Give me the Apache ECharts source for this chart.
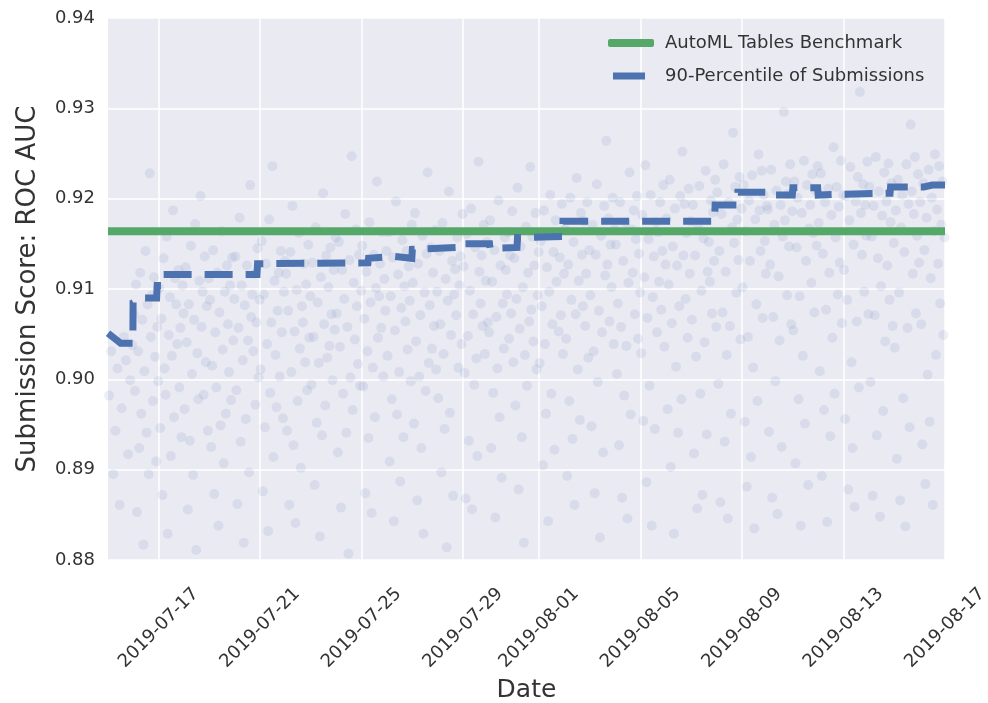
<!DOCTYPE html>
<html>
<head>
<meta charset="utf-8">
<script src="https://cdn.jsdelivr.net/npm/echarts@6/dist/echarts.min.js"></script>
<style>
html,body{margin:0;padding:0;background:#fff;}
#chart{width:988px;height:703px;}
</style>
</head>
<body>
<div id="chart"></div>
<script>
// ---------- data ----------
const tickDates = ['2019-07-17','2019-07-21','2019-07-25','2019-07-29','2019-08-01','2019-08-05','2019-08-09','2019-08-13','2019-08-17'];
const xMinDate = '2019-07-15';
const xMaxDate = '2019-08-17';
const yTicks = [0.88, 0.89, 0.90, 0.91, 0.92, 0.93, 0.94];

const benchmarkName = 'AutoML Tables Benchmark';
const benchmarkValue = 0.9164;

const percentileName = '90-Percentile of Submissions';
const percentileDates = [
 '2019-07-15 00:00','2019-07-15 12:00','2019-07-15 23:30','2019-07-15 23:45','2019-07-16 08:00','2019-07-16 22:00',
 '2019-07-16 22:30','2019-07-17 03:00','2019-07-17 03:30','2019-07-20 21:00','2019-07-20 21:30','2019-07-25 06:00',
 '2019-07-25 06:30','2019-07-26 07:00','2019-07-26 23:30','2019-07-27 00:00','2019-07-28 21:00','2019-07-28 21:30',
 '2019-07-30 01:00','2019-07-30 01:30','2019-07-31 03:00','2019-07-31 03:30','2019-08-01 22:00','2019-08-01 22:30',
 '2019-08-07 22:00','2019-08-07 22:30','2019-08-08 19:30','2019-08-08 20:00','2019-08-10 01:00','2019-08-10 01:30',
 '2019-08-10 23:30','2019-08-11 00:00','2019-08-11 23:30','2019-08-12 00:00','2019-08-13 00:00','2019-08-13 01:00',
 '2019-08-14 20:00','2019-08-14 20:30','2019-08-16 04:00','2019-08-16 05:00','2019-08-16 12:00','2019-08-17 00:00'
];
const percentileValues = [
 0.9051,0.9040,0.9040,0.9085,0.9090,0.9090,
 0.9104,0.9104,0.9116,0.9116,0.9128,0.9129,
 0.9134,0.9136,0.9134,0.9144,0.9146,0.9150,
 0.9150,0.9145,0.9146,0.9157,0.9158,0.9175,
 0.9175,0.9193,0.9193,0.9207,0.9207,0.9204,
 0.9204,0.9212,0.9212,0.9204,0.9205,0.9206,
 0.9206,0.9213,0.9213,0.9212,0.9215,0.9215
];

const submissionDays = [
 '2019-07-15','2019-07-16','2019-07-17','2019-07-18','2019-07-19','2019-07-20','2019-07-21','2019-07-22',
 '2019-07-23','2019-07-24','2019-07-25','2019-07-26','2019-07-27','2019-07-28','2019-07-29','2019-07-30',
 '2019-07-31','2019-08-01','2019-08-02','2019-08-03','2019-08-04','2019-08-05','2019-08-06','2019-08-07',
 '2019-08-08','2019-08-09','2019-08-10','2019-08-11','2019-08-12','2019-08-13','2019-08-14','2019-08-15',
 '2019-08-16'
];
const submissionScores = [
 [0.8982,0.9031,0.8895,0.8943,0.9012,0.8861,0.8968,0.9047,0.9021,0.8917,0.8999,0.9038],
 [0.9072,0.8987,0.9105,0.8853,0.9031,0.8924,0.9118,0.8962,0.9066,0.8817,0.9009,0.9142,0.8941,0.9083,0.8895,0.9228,0.9047,0.9093,0.8976,0.9113,0.9025,0.8909,0.9058,0.8998],
 [0.9101,0.8946,0.9067,0.8872,0.9134,0.9012,0.8983,0.9158,0.8829,0.9049,0.9091,0.8915,0.9026,0.9187,0.8958,0.9112,0.9083,0.9039,0.9121,0.8991,0.9057,0.8936,0.9104,0.9073],
 [0.8967,0.9124,0.9041,0.8856,0.9083,0.8932,0.9148,0.9006,0.8894,0.9066,0.9172,0.8811,0.9029,0.8978,0.9109,0.9203,0.9058,0.9097,0.8983,0.9136,0.9019,0.9081,0.8943,0.9112],
 [0.9088,0.8925,0.9015,0.9143,0.8873,0.9052,0.8991,0.9118,0.8838,0.9074,0.8949,0.9164,0.9033,0.8907,0.9097,0.8962,0.9126,0.9061,0.9008,0.9104,0.8977,0.9135,0.9043,0.9089],
 [0.9136,0.8988,0.8862,0.9057,0.9179,0.8931,0.9104,0.9021,0.8819,0.9082,0.8956,0.9126,0.9043,0.8897,0.9215,0.9069,0.9094,0.9031,0.9117,0.8972,0.9063,0.9145,0.9002,0.9088],
 [0.9011,0.9153,0.8876,0.9094,0.8947,0.9128,0.9039,0.8832,0.9177,0.8985,0.9063,0.9236,0.8914,0.9109,0.9027,0.8969,0.9076,0.9118,0.9003,0.9142,0.9052,0.8957,0.9097,0.9131],
 [0.9117,0.8943,0.9076,0.8861,0.9141,0.9008,0.9192,0.8927,0.9053,0.8841,0.9099,0.8976,0.9162,0.9034,0.8902,0.9081,0.9063,0.9128,0.9019,0.9105,0.8988,0.9149,0.9046,0.9092],
 [0.8994,0.9129,0.9047,0.8883,0.9168,0.8952,0.9085,0.9018,0.8826,0.9113,0.8938,0.9206,0.9061,0.8971,0.9137,0.9024,0.9102,0.9037,0.9146,0.9072,0.8999,0.9121,0.9055,0.9157],
 [0.9073,0.8919,0.9152,0.9036,0.8858,0.9121,0.8984,0.9089,0.9183,0.8941,0.9058,0.8807,0.9132,0.9002,0.9247,0.8966,0.9107,0.9044,0.9166,0.9081,0.9017,0.9138,0.8993,0.9098],
 [0.9148,0.8992,0.9067,0.8874,0.9119,0.9031,0.8935,0.9174,0.9085,0.8852,0.9013,0.9138,0.8958,0.9101,0.9219,0.9046,0.9092,0.9128,0.9057,0.9163,0.9003,0.9111,0.9076,0.9142],
 [0.9026,0.9163,0.8909,0.9092,0.8978,0.9135,0.8843,0.9054,0.9197,0.8961,0.9116,0.9008,0.8887,0.9079,0.9154,0.8936,0.9103,0.9064,0.9142,0.9033,0.9125,0.9087,0.8998,0.9171],
 [0.9107,0.8951,0.9184,0.9042,0.8866,0.9128,0.9003,0.9071,0.8924,0.9159,0.8829,0.9096,0.8987,0.9139,0.9229,0.9018,0.9082,0.9146,0.9034,0.9118,0.9059,0.9165,0.9011,0.9097],
 [0.8979,0.9142,0.9061,0.8897,0.9173,0.9028,0.8945,0.9111,0.8814,0.9087,0.9208,0.8963,0.9049,0.9131,0.8871,0.9094,0.9122,0.9071,0.9157,0.9013,0.9104,0.9136,0.9039,0.9183],
 [0.9125,0.9007,0.8868,0.9161,0.9048,0.8932,0.9098,0.9189,0.8856,0.9072,0.8994,0.9146,0.9023,0.8915,0.9241,0.9119,0.9084,0.9137,0.9059,0.9171,0.9028,0.9109,0.9152,0.9063],
 [0.9052,0.9176,0.8924,0.9108,0.8985,0.9143,0.8847,0.9069,0.9012,0.9198,0.8958,0.9126,0.8891,0.9084,0.9034,0.9157,0.9121,0.9094,0.9163,0.9045,0.9137,0.9073,0.9186,0.9019],
 [0.9134,0.8971,0.9089,0.9212,0.8878,0.9056,0.9147,0.8936,0.9102,0.8819,0.9027,0.9169,0.8993,0.9118,0.9064,0.9235,0.9077,0.9158,0.9042,0.9126,0.9184,0.9011,0.9093,0.9141],
 [0.9018,0.9153,0.9081,0.8905,0.9187,0.9039,0.8962,0.9124,0.8843,0.9097,0.9204,0.8984,0.9061,0.9141,0.8922,0.9176,0.9108,0.9162,0.9053,0.9135,0.9071,0.9194,0.9028,0.9117],
 [0.9166,0.9045,0.8893,0.9127,0.8976,0.9201,0.9088,0.8934,0.9152,0.8861,0.9072,0.9223,0.9011,0.9109,0.8955,0.9184,0.9138,0.9081,0.9175,0.9059,0.9117,0.9196,0.9024,0.9143],
 [0.9093,0.8948,0.9171,0.9031,0.8874,0.9138,0.9216,0.8997,0.9076,0.8825,0.9159,0.9052,0.8919,0.9192,0.9115,0.9264,0.9127,0.9178,0.9064,0.9149,0.9102,0.9201,0.9039,0.9166],
 [0.9149,0.9006,0.9084,0.8927,0.9196,0.9058,0.8869,0.9131,0.8982,0.9174,0.9037,0.8846,0.9107,0.9229,0.8961,0.9166,0.9118,0.9187,0.9072,0.9155,0.9203,0.9045,0.9139,0.9096],
 [0.9029,0.9182,0.8954,0.9113,0.9237,0.8886,0.9068,0.9155,0.8993,0.9204,0.8838,0.9091,0.9136,0.8945,0.9174,0.9052,0.9163,0.9108,0.9196,0.9077,0.9142,0.9215,0.9036,0.9127],
 [0.9178,0.8967,0.9105,0.9221,0.8903,0.9062,0.9147,0.8829,0.9189,0.9014,0.9126,0.8941,0.9081,0.9203,0.8978,0.9252,0.9137,0.9194,0.9089,0.9162,0.9046,0.9211,0.9117,0.9175],
 [0.9066,0.9193,0.8918,0.9137,0.9025,0.8857,0.9171,0.9214,0.8984,0.9098,0.8872,0.9156,0.9041,0.9231,0.8939,0.9119,0.9152,0.9108,0.9198,0.9073,0.9185,0.9131,0.9221,0.9058],
 [0.9207,0.8995,0.9142,0.8864,0.9183,0.9074,0.9238,0.8931,0.9119,0.9027,0.8846,0.9196,0.9059,0.8962,0.9168,0.9273,0.9151,0.9213,0.9096,0.9177,0.9132,0.9224,0.9044,0.9189],
 [0.9102,0.9215,0.8953,0.9164,0.8881,0.9047,0.9198,0.9131,0.8914,0.9226,0.9013,0.8835,0.9177,0.9083,0.8976,0.9249,0.9187,0.9142,0.9231,0.9068,0.9204,0.9153,0.9117,0.9192],
 [0.9188,0.8942,0.9127,0.9232,0.8869,0.9069,0.9171,0.8998,0.9209,0.8851,0.9114,0.9043,0.9193,0.8925,0.9158,0.9296,0.9176,0.9219,0.9093,0.9205,0.9147,0.9238,0.9061,0.9186],
 [0.9054,0.9219,0.8907,0.9146,0.9201,0.8978,0.9092,0.8838,0.9184,0.9026,0.9242,0.8951,0.9131,0.9215,0.8883,0.9167,0.9193,0.9107,0.9227,0.9162,0.9074,0.9209,0.9148,0.9236],
 [0.9173,0.9009,0.9228,0.8893,0.9139,0.8966,0.9196,0.9077,0.8842,0.9211,0.9118,0.8937,0.9182,0.9046,0.9257,0.8984,0.9157,0.9213,0.9094,0.9191,0.9129,0.9242,0.9062,0.9204],
 [0.9121,0.8956,0.9203,0.9088,0.8878,0.9176,0.9235,0.9019,0.8924,0.9149,0.8859,0.9197,0.9064,0.9224,0.8991,0.9318,0.9184,0.9138,0.9216,0.9097,0.9193,0.9159,0.9241,0.9072],
 [0.9213,0.8997,0.9158,0.8871,0.9192,0.9071,0.9246,0.8938,0.9134,0.9208,0.8848,0.9103,0.9181,0.8965,0.9229,0.9042,0.9197,0.9126,0.9239,0.9088,0.9174,0.9217,0.9059,0.9151],
 [0.9035,0.9187,0.8912,0.9221,0.9096,0.8866,0.9168,0.9204,0.8979,0.9141,0.8837,0.9238,0.9057,0.9194,0.8947,0.9282,0.9208,0.9117,0.9183,0.9246,0.9073,0.9159,0.9227,0.9129],
 [0.9196,0.9061,0.8928,0.9217,0.9143,0.8884,0.9179,0.9005,0.9232,0.8953,0.9112,0.9201,0.8861,0.9164,0.9249,0.9027,0.9188,0.9128,0.9236,0.9084,0.9171,0.9219,0.9049,0.9157]
];

// ---------- helpers ----------
function ts(s) {
  const parts = s.split(' ');
  const d = parts[0].split('-').map(Number);
  let h = 0, mi = 0;
  if (parts[1]) { const t = parts[1].split(':').map(Number); h = t[0]; mi = t[1]; }
  return new Date(d[0], d[1] - 1, d[2], h, mi).getTime();
}
function pad(n) { return n < 10 ? '0' + n : '' + n; }
function fmtDate(v) {
  const d = new Date(v);
  return d.getFullYear() + '-' + pad(d.getMonth() + 1) + '-' + pad(d.getDate());
}
const DAY = 86400000;

const scatterData = [];
submissionDays.forEach(function (day, di) {
  const start = ts(day);
  const vals = submissionScores[di];
  vals.forEach(function (v, i) {
    scatterData.push([start + (i + 0.5) / vals.length * DAY, v]);
  });
});
const xMin = ts(xMinDate), xMax = ts(xMaxDate);
const tickVals = tickDates.map(ts);
const lineData = percentileDates.map(function (d, i) { return [ts(d), percentileValues[i]]; });

const FONT = 'DejaVu Sans';
const TXT = '#333333';

const chart = echarts.init(document.getElementById('chart'), null, { renderer: 'canvas' });
chart.setOption({
  animation: false,
  backgroundColor: '#ffffff',
  textStyle: { fontFamily: FONT },
  grid: {
    left: 108, right: 43, top: 18, bottom: 143,
    containLabel: false, outerBoundsMode: 'none',
    show: true, backgroundColor: '#EAEAF2', borderWidth: 0
  },
  legend: [
    {
      data: [benchmarkName], left: 603, top: 29, icon: 'roundRect',
      itemWidth: 46, itemHeight: 8,
      textStyle: { fontSize: 18, color: TXT, fontFamily: FONT, padding: [0, 0, 0, 6] }
    },
    {
      data: [percentileName], left: 608, top: 62, icon: 'rect',
      itemWidth: 32, itemHeight: 7,
      textStyle: { fontSize: 18, color: TXT, fontFamily: FONT, padding: [0, 0, 0, 15] }
    }
  ],
  xAxis: {
    type: 'value', min: xMin, max: xMax, scale: true,
    axisLine: { show: false },
    axisTick: { show: false, customValues: tickVals },
    axisLabel: {
      customValues: tickVals, rotate: 45, align: 'center', verticalAlign: 'middle',
      margin: 68, fontSize: 18, color: TXT, fontFamily: FONT, hideOverlap: false,
      formatter: function (v) { return fmtDate(v); }
    },
    splitLine: { show: true, lineStyle: { color: '#ffffff', width: 1.5 } },
    name: 'Date', nameLocation: 'middle', nameGap: 117,
    nameTextStyle: { fontSize: 25, color: TXT, fontFamily: FONT }
  },
  yAxis: {
    type: 'value', min: yTicks[0], max: yTicks[yTicks.length - 1], interval: 0.01,
    axisLine: { show: false }, axisTick: { show: false },
    axisLabel: {
      fontSize: 18, color: TXT, fontFamily: FONT, margin: 13,
      formatter: function (v) { return v.toFixed(2); }
    },
    splitLine: { show: true, lineStyle: { color: '#ffffff', width: 1.5 } },
    name: 'Submission Score: ROC AUC', nameLocation: 'middle', nameGap: 67,
    nameTextStyle: { fontSize: 26, color: TXT, fontFamily: FONT }
  },
  series: [
    {
      name: 'submissions', type: 'scatter', data: scatterData, symbolSize: 10,
      itemStyle: { color: 'rgba(76,114,176,0.14)' }, silent: true, z: 1, clip: true
    },
    {
      name: benchmarkName, type: 'line', data: [[xMin, benchmarkValue], [xMax, benchmarkValue]],
      showSymbol: false, symbol: 'none', z: 2,
      itemStyle: { color: '#55A868' },
      lineStyle: { color: '#55A868', width: 8, cap: 'butt' }
    },
    {
      name: percentileName, type: 'line', data: lineData,
      showSymbol: false, symbol: 'none', z: 3,
      itemStyle: { color: '#4C72B0' },
      lineStyle: { color: '#4C72B0', width: 7, type: [28, 13], cap: 'butt', join: 'miter' }
    }
  ]
});
</script>
</body>
</html>
